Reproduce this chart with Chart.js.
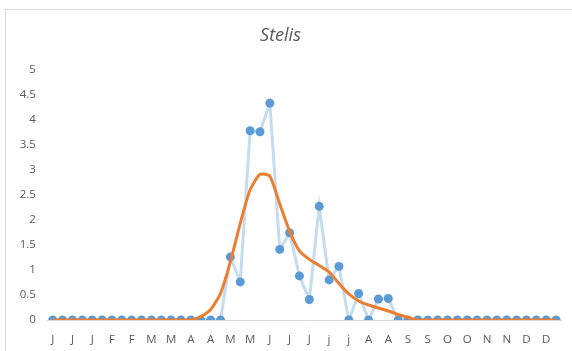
<!DOCTYPE html>
<html>
<head>
<meta charset="utf-8">
<script src="https://cdn.jsdelivr.net/npm/chart.js@4"></script>
<style>
  html, body { margin: 0; padding: 0; background: #fff; }
  #wrap { position: relative; width: 572px; height: 351px; }
  #frame { position: absolute; left: 5px; top: 9px; right: 0; bottom: 0;
           border-left: 1px solid #d9d9d9; border-top: 1px solid #d9d9d9; }
  canvas { position: absolute; left: 0; top: 0; }
</style>
</head>
<body>
<div id="wrap">
  <div id="frame"></div>
  <canvas id="chart" width="572" height="351"></canvas>
</div>
<script>
// Semanas (52), só uma em cada duas aparece no eixo
const weekLabels = [
  'J','J','J','J','J','J','F','F','F','F','M','M','M','M','A','A','A','A',
  'M','M','M','M','J','J','J','J','J','J','j','j','j','j','A','A','A','A',
  'S','S','S','S','O','O','O','O','N','N','N','N','D','D','D','D'
];

const weeklyValues = [
  0, 0, 0, 0, 0, 0, 0, 0, 0, 0, 0, 0, 0, 0, 0, 0, 0, 0,
  1.26, 0.76, 3.78, 3.76, 4.33, 1.41, 1.74, 0.88, 0.41, 2.27, 0.80, 1.07,
  0, 0.53, 0, 0.42, 0.43,
  0, 0, 0, 0, 0, 0, 0, 0, 0, 0, 0, 0, 0, 0, 0, 0, 0
];

const trendValues = [
  0, 0, 0, 0, 0, 0, 0, 0, 0, 0, 0, 0, 0, 0, 0,
  0.07, 0.21, 0.53, 1.16, 1.93, 2.60, 2.91, 2.87, 2.32, 1.77, 1.38, 1.21,
  1.09, 0.96, 0.73, 0.52, 0.38, 0.30, 0.24, 0.18, 0.11, 0.05,
  0, 0, 0, 0, 0, 0, 0, 0, 0, 0, 0, 0, 0, 0, 0
];

const yTicks = { min: 0, max: 5, step: 0.5 };

const textColor = '#595959';

new Chart(document.getElementById('chart'), {
  type: 'line',
  data: {
    labels: weekLabels,
    datasets: [
      {
        label: 'Tendência',
        data: trendValues,
        borderColor: '#ed7d31',
        borderWidth: 3,
        pointRadius: 0,
        tension: 0.2,
        fill: false,
        order: 0
      },
      {
        label: 'Stelis',
        data: weeklyValues,
        borderColor: '#c5dcf0',
        borderWidth: 3,
        pointRadius: 4.5,
        pointBackgroundColor: '#5b9bd5',
        pointBorderColor: '#5b9bd5',
        pointBorderWidth: 0,
        tension: 0,
        fill: false,
        order: 1
      }
    ]
  },
  options: {
    responsive: false,
    animation: false,
    layout: { padding: { left: 0, right: 11, top: 0, bottom: 0 } },
    plugins: {
      legend: { display: false },
      tooltip: { enabled: false },
      title: {
        display: true,
        text: 'Stelis',
        color: textColor,
        font: { family: 'Open Sans', size: 18, style: 'italic', weight: 'normal' },
        padding: { top: 25, bottom: 23 }
      }
    },
    scales: {
      x: {
        offset: true,
        grid: { display: false, drawTicks: false },
        border: { display: true, color: '#d9d9d9', width: 1 },
        ticks: {
          color: textColor,
          font: { family: 'Open Sans', size: 11.5 },
          autoSkip: false,
          maxRotation: 0,
          padding: 13,
          callback: (value, index) => index % 2 === 0 ? weekLabels[index] : ''
        },
        afterFit: (scale) => { scale.height = 31; }
      },
      y: {
        min: yTicks.min,
        max: yTicks.max,
        grid: { display: false, drawTicks: false },
        border: { display: false },
        ticks: {
          stepSize: yTicks.step,
          color: textColor,
          font: { family: 'Open Sans', size: 11.5 },
          padding: 12,
          callback: (value) => String(value)
        },
        afterFit: (scale) => { scale.width = 47.8; }
      }
    }
  }
});
</script>
</body>
</html>
